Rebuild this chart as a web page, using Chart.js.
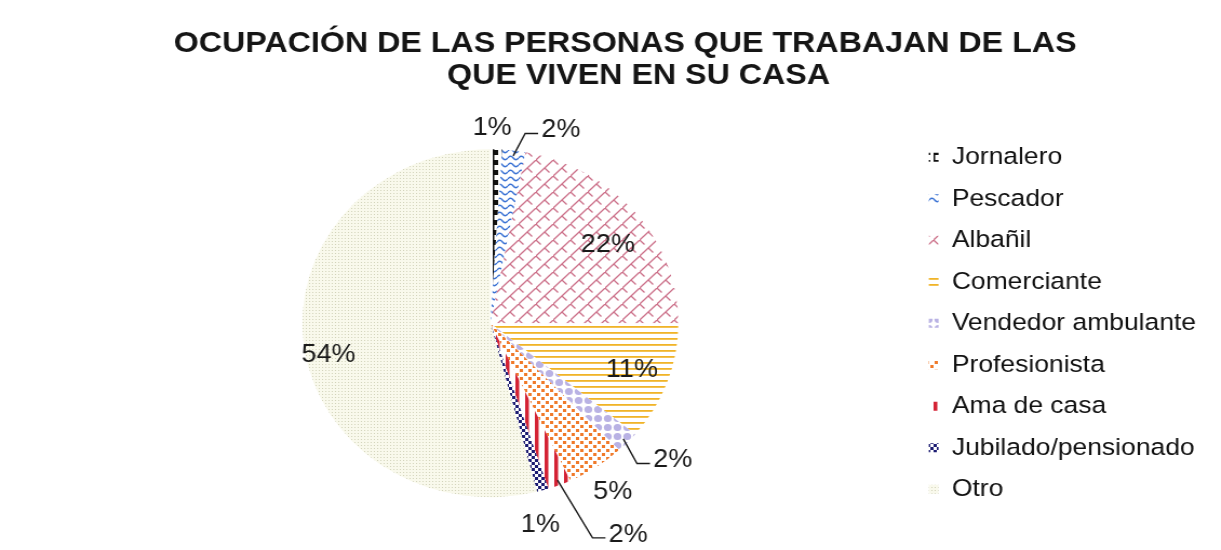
<!DOCTYPE html>
<html>
<head>
<meta charset="utf-8">
<script src="https://cdn.jsdelivr.net/npm/chart.js@4.4.0/dist/chart.umd.min.js"></script>
<style>
  html, body { margin: 0; padding: 0; background: #fff; overflow: hidden; }
  #wrap { width: 1130px; height: 550px; transform: scaleX(1.0805); transform-origin: 0 0; }
</style>
</head>
<body>
<div id="wrap"><canvas id="chart" width="1130" height="550"></canvas></div>
<script>
const occupations = ['Jornalero', 'Pescador', 'Albañil', 'Comerciante', 'Vendedor ambulante',
                     'Profesionista', 'Ama de casa', 'Jubilado/pensionado', 'Otro'];
const percentages = [1, 2, 22, 11, 2, 5, 2, 1, 54];
// trailing spaces nudge the first line a little left, as in the original
const titleLines = ['OCUPACIÓN DE LAS PERSONAS QUE TRABAJAN DE LAS   ', 'QUE VIVEN EN SU CASA'];

// where each % label sits: distance (x radius) and turn (degrees) from the slice middle
const labelDist = [1.12, 1.17, 0.77, 0.80, 1.25, 1.17, 1.42, 1.19, 0.88];
const labelTurn = [-1.3, 11.5, 3.9, 0, -4.1, 0.4, -9.5, 3.3, -4.8];
const hasLeader = [false, true, false, false, true, false, true, false, false];

const FONT = "'Liberation Sans', Arial, sans-serif";

// small tiles used as hatch fills, like the office chart patterns
function tile(w, h, draw) {
    const c = document.createElement('canvas');
    c.width = w;
    c.height = h;
    const g = c.getContext('2d');
    g.fillStyle = '#ffffff';
    g.fillRect(0, 0, w, h);
    draw(g);
    return g.createPattern(c, 'repeat');
}

const fills = [
    tile(8, 10, g => {            // Jornalero
        g.fillStyle = '#111';
        g.fillRect(0, 0, 5, 5);
        g.fillRect(0, 0, 1.5, 10);
    }),
    tile(10, 7, g => {            // Pescador
        g.strokeStyle = '#3a72d4';
        g.lineWidth = 1.3;
        g.beginPath();
        g.moveTo(0, 4);
        g.quadraticCurveTo(2.5, 0.5, 5, 4);
        g.quadraticCurveTo(7.5, 7.5, 10, 4);
        g.stroke();
    }),
    tile(16, 16, g => {           // Albañil
        g.strokeStyle = '#cc7089';
        g.lineWidth = 1.3;
        g.beginPath();
        g.moveTo(-1, 17); g.lineTo(17, -1);
        g.moveTo(-1, 1); g.lineTo(1, -1);
        g.moveTo(8, 8); g.lineTo(12.5, 12.5);
        g.moveTo(0, 0); g.lineTo(4.5, 4.5);
        g.stroke();
    }),
    tile(6, 6, g => {             // Comerciante
        g.fillStyle = '#f0b428';
        g.fillRect(0, 2, 6, 1.8);
    }),
    tile(9, 9, g => {             // Vendedor ambulante
        g.fillStyle = '#b9b2e4';
        g.beginPath();
        g.arc(4.5, 4.5, 3.6, 0, Math.PI * 2);
        g.fill();
    }),
    tile(8, 8, g => {             // Profesionista
        g.fillStyle = '#f07a2a';
        g.fillRect(1, 1, 3, 3);
        g.fillRect(5, 5, 3, 3);
    }),
    tile(9, 9, g => {             // Ama de casa
        g.fillStyle = '#d42234';
        g.fillRect(0, 0, 3.5, 9);
    }),
    tile(6, 6, g => {             // Jubilado/pensionado
        g.fillStyle = '#1c1c72';
        g.fillRect(0, 0, 3, 3);
        g.fillRect(3, 3, 3, 3);
    }),
    tile(3, 3, g => {             // Otro
        g.fillStyle = '#f9f9ec';
        g.fillRect(0, 0, 3, 3);
        g.fillStyle = '#d2d3ba';
        g.fillRect(1, 1, 1, 1);
    })
];

const sliceLabels = {
    id: 'sliceLabels',
    afterDatasetsDraw(chart) {
        const ctx = chart.ctx;
        const arcs = chart.getDatasetMeta(0).data;
        ctx.save();
        ctx.font = '25px ' + FONT;
        ctx.fillStyle = '#1a1a1a';
        ctx.strokeStyle = '#1a1a1a';
        ctx.lineWidth = 1.4;
        ctx.textAlign = 'center';
        ctx.textBaseline = 'middle';
        arcs.forEach((arc, i) => {
            const p = arc.getProps(['x', 'y', 'startAngle', 'endAngle', 'outerRadius'], true);
            const mid = (p.startAngle + p.endAngle) / 2;
            const a = mid + labelTurn[i] * Math.PI / 180;
            const d = p.outerRadius * labelDist[i];
            const tx = p.x + Math.cos(a) * d;
            const ty = p.y + Math.sin(a) * d;
            const text = percentages[i] + '%';
            if (hasLeader[i]) {
                const left = tx - ctx.measureText(text).width / 2;
                ctx.beginPath();
                ctx.moveTo(p.x + Math.cos(mid) * p.outerRadius * 0.97,
                           p.y + Math.sin(mid) * p.outerRadius * 0.97);
                ctx.lineTo(left - 15, ty + 3);
                ctx.lineTo(left - 3, ty + 3);
                ctx.stroke();
            }
            ctx.fillText(text, tx, ty);
        });
        ctx.restore();
    }
};

new Chart(document.getElementById('chart'), {
    type: 'pie',
    data: {
        labels: occupations,
        datasets: [{
            data: percentages,
            backgroundColor: fills,
            borderWidth: 0
        }]
    },
    options: {
        responsive: false,
        animation: false,
        events: [],
        radius: 174,
        layout: { padding: { left: 65, right: 13, top: 0, bottom: 10 } },
        plugins: {
            title: {
                display: true,
                text: titleLines,
                color: '#151515',
                font: { family: FONT, size: 29.8, weight: 'bold', lineHeight: 1.1 },
                padding: { top: 27, bottom: 14 }
            },
            legend: {
                position: 'right',
                fullSize: false,
                labels: {
                    color: '#111',
                    font: { family: FONT, size: 24.5 },
                    boxWidth: 9,
                    boxHeight: 9,
                    padding: 17
                }
            },
            tooltip: { enabled: false }
        }
    },
    plugins: [sliceLabels]
});
</script>
</body>
</html>
